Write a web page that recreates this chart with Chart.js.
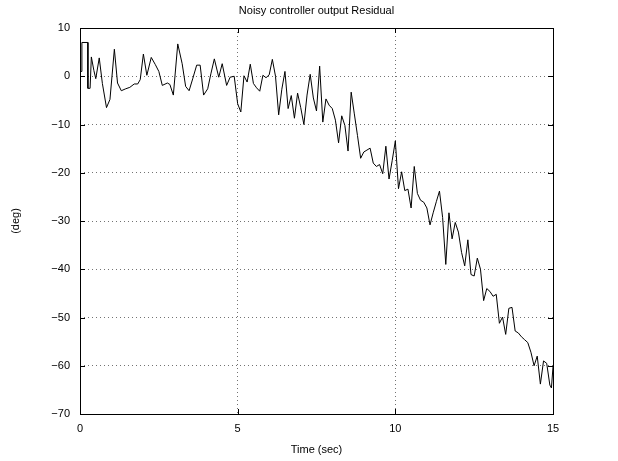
<!DOCTYPE html>
<html>
<head>
<meta charset="utf-8">
<title>Noisy controller output Residual</title>
<script src="https://cdn.jsdelivr.net/npm/chart.js"></script>
<style>
  html, body { margin: 0; padding: 0; background: #fff; }
  canvas { display: block; }
</style>
</head>
<body>
<canvas id="residual" width="618" height="461"></canvas>
<script>
// sample times (sec) - the start has a short pulse, so some times repeat
const timeSec = [
  0, 0.06, 0.06, 0.25, 0.25, 0.32, 0.36, 0.44, 0.5, 0.61, 0.71, 0.84, 0.95,
  1.09, 1.19, 1.31, 1.45, 1.58, 1.72, 1.83, 1.91,
  2.01, 2.12, 2.26, 2.39, 2.5, 2.61, 2.77, 2.85, 2.96,
  3.1, 3.24, 3.35, 3.46, 3.58, 3.7, 3.81, 3.92,
  4.05, 4.15, 4.26, 4.4, 4.51, 4.65, 4.76, 4.89,
  5.0, 5.1, 5.2, 5.3, 5.4, 5.5, 5.6, 5.7, 5.8, 5.9,
  6.0, 6.1, 6.2, 6.3, 6.4, 6.5, 6.6, 6.7, 6.8, 6.9,
  7.0, 7.1, 7.2, 7.3, 7.4, 7.5, 7.6, 7.7, 7.8, 7.9,
  8.0, 8.1, 8.2, 8.3, 8.4, 8.5, 8.6, 8.7, 8.8, 8.9,
  9.0, 9.1, 9.2, 9.3, 9.4, 9.5, 9.6, 9.7, 9.8, 9.9,
  10.0, 10.1, 10.2, 10.3, 10.4, 10.5, 10.6, 10.7, 10.8, 10.9,
  11.0, 11.1, 11.2, 11.3, 11.4, 11.5, 11.6, 11.7, 11.8, 11.9,
  12.0, 12.1, 12.2, 12.3, 12.4, 12.5, 12.6, 12.7, 12.8, 12.9,
  13.0, 13.1, 13.2, 13.3, 13.4, 13.5, 13.6, 13.7, 13.8, 13.9,
  14.0, 14.1, 14.2, 14.3, 14.4, 14.5, 14.6, 14.7, 14.8, 14.9, 14.95,
  15.0
];

// residual (deg)
const residualDeg = [
  1.0, 1.0, 7.0, 7.0, -2.5, -2.5, 4.0, 1.2, -0.5, 3.8, -1.5, -6.5, -4.8,
  5.6, -1.4, -3.0, -2.6, -2.3, -1.6, -1.6, -0.7,
  4.6, 0.2, 3.9, 2.4, 1.0, -1.9, -1.4, -1.7, -3.9,
  6.7, 2.6, -2.1, -3.0, -0.4, 2.3, 2.3, -3.9,
  -2.6, 0.5, 3.6, -0.2, 2.6, -1.9, -0.2, 0.0,
  -5.7, -7.4, 0.1, -1.2, 2.5, -1.5, -2.4, -3.1, 0.2, -0.3,
  0.3, 3.5, 0.0, -8.0, -2.7, 1.0, -6.7, -4.0, -8.7, -3.5,
  -6.5, -10.0, -3.9, 0.4, -4.5, -7.2, 2.1, -9.5, -4.7, -6.0,
  -6.7, -9.1, -13.8, -8.2, -10.2, -15.5, -3.3, -7.8, -12.3, -17.0,
  -15.7, -15.3, -14.9, -18.0, -18.7, -18.3, -20.2, -14.5, -21.3, -17.5,
  -13.4, -23.3, -19.8, -23.7, -23.4, -27.3, -18.7, -24.3, -25.7, -26.1,
  -27.3, -30.8, -28.3, -26.0, -23.8, -29.3, -39.0, -28.3, -33.7, -30.3,
  -32.3, -36.5, -39.3, -33.9, -41.1, -41.4, -37.7, -40.0, -46.5, -44.0,
  -44.6, -45.6, -45.2, -51.2, -49.9, -53.5, -48.1, -47.9, -52.8, -53.2,
  -54.0, -54.6, -55.2, -57.2, -60.0, -58.0, -63.8, -59.0, -59.5, -64.0, -64.6,
  -60.2
];

// axis ticks
const xTicks = [0, 5, 10, 15];
const yTicks = [10, 0, -10, -20, -30, -40, -50, -60, -70];

const FONT = "'Liberation Sans', Arial, Helvetica, sans-serif";
Chart.defaults.font.family = FONT;
Chart.defaults.font.size = 11;
Chart.defaults.color = '#000';

const minus = (v) => String(v).replace('-', '\u2212');

// white background, box around the axes and matlab-style inward ticks
const axesFrame = {
  id: 'axesFrame',
  beforeDraw(chart) {
    const ctx = chart.ctx;
    ctx.save();
    ctx.fillStyle = '#fff';
    ctx.fillRect(0, 0, chart.width, chart.height);
    ctx.restore();
  },
  afterDatasetsDraw(chart) {
    const { ctx, chartArea: a, scales } = chart;
    const len = 5;
    ctx.save();
    ctx.strokeStyle = '#000';
    ctx.lineWidth = 1;
    ctx.setLineDash([]);
    ctx.strokeRect(Math.round(a.left) + 0.5, Math.round(a.top) + 0.5,
      Math.round(a.right - a.left), Math.round(a.bottom - a.top));
    ctx.beginPath();
    xTicks.forEach((v) => {
      const px = Math.round(scales.x.getPixelForValue(v)) + 0.5;
      ctx.moveTo(px, a.bottom); ctx.lineTo(px, a.bottom - len);
      ctx.moveTo(px, a.top); ctx.lineTo(px, a.top + len);
    });
    yTicks.forEach((v) => {
      const py = Math.round(scales.y.getPixelForValue(v)) + 0.5;
      ctx.moveTo(a.left, py); ctx.lineTo(a.left + len, py);
      ctx.moveTo(a.right, py); ctx.lineTo(a.right - len, py);
    });
    ctx.stroke();
    ctx.restore();
  }
};

const dottedGrid = {
  color: 'rgba(0,0,0,0.55)',
  lineWidth: 1,
  drawTicks: false
};

new Chart(document.getElementById('residual'), {
  type: 'line',
  data: {
    labels: timeSec,
    datasets: [{
      label: 'Residual',
      data: timeSec.map((t, i) => ({ x: t, y: residualDeg[i] })),
      borderColor: '#000',
      borderWidth: 1,
      pointRadius: 0,
      tension: 0,
      fill: false
    }]
  },
  options: {
    responsive: false,
    devicePixelRatio: 1,
    animation: false,
    layout: { padding: { left: 0, right: 65, top: 0, bottom: 0 } },
    plugins: {
      legend: { display: false },
      tooltip: { enabled: false },
      title: {
        display: true,
        text: 'Noisy controller output Residual',
        fullSize: false,
        font: { size: 11, weight: 'normal' },
        color: '#000',
        padding: { top: 4, bottom: 10.8 }
      }
    },
    scales: {
      x: {
        type: 'linear',
        min: 0,
        max: 15,
        grid: dottedGrid,
        border: { display: false, dash: [1, 3] },
        ticks: { stepSize: 5, padding: 8, maxRotation: 0, callback: minus },
        title: { display: true, text: 'Time (sec)', padding: { top: 0, bottom: 4 } },
        afterFit(scale) { scale.height = 47; }
      },
      y: {
        min: -70,
        max: 10,
        grid: dottedGrid,
        border: { display: false, dash: [1, 3] },
        ticks: { stepSize: 10, padding: 10, callback: minus },
        title: { display: true, text: '(deg)', padding: { top: 9, bottom: 0 } },
        afterFit(scale) { scale.width = 80; }
      }
    }
  },
  plugins: [axesFrame]
});
</script>
</body>
</html>
